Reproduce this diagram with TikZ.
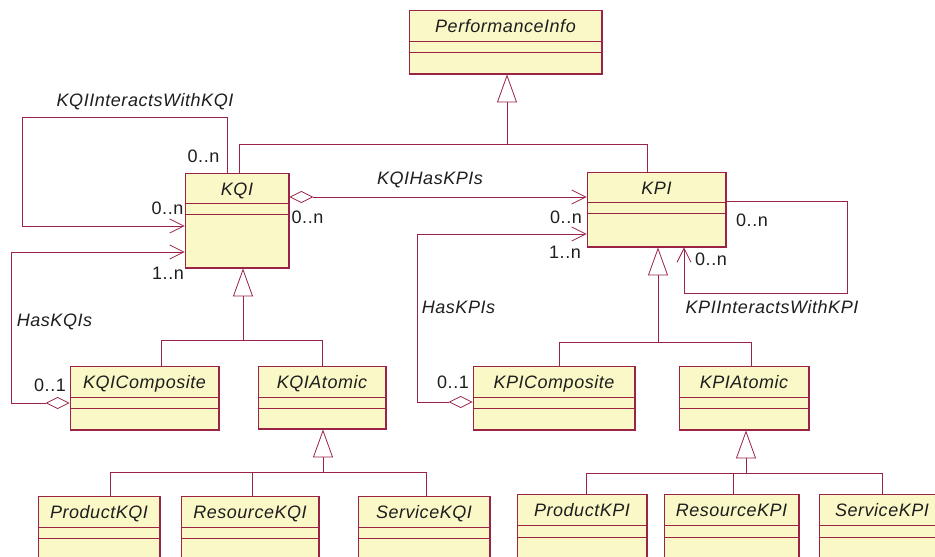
\documentclass[tikz,border=0pt]{standalone}
\usepackage{fontspec}
\setmainfont{Liberation Sans}
\newfontfamily\umlfont[LetterSpace=3]{Liberation Sans}
\usetikzlibrary{arrows.meta,fit}
\definecolor{umlline}{RGB}{155,35,70}
\definecolor{umlfill}{RGB}{251,248,200}
\definecolor{umltext}{RGB}{30,30,30}
\tikzset{
 classbox/.style={draw=umlline, fill=umlfill, line width=0.9pt, inner sep=0pt, rectangle},
 ctitle/.style={font=\umlfont\fontsize{18}{20}\selectfont\itshape, text=umltext, anchor=base, inner sep=0pt},
 mult/.style={font=\umlfont\fontsize{18}{20}\selectfont, text=umltext, inner sep=0pt},
 rolelabel/.style={font=\umlfont\fontsize{18}{20}\selectfont\itshape, text=umltext, inner sep=0pt},
 conn/.style={draw=umlline, line width=0.8pt},
 genarrow/.style={conn, -{Triangle[open, length=28pt, width=20pt, line width=0.8pt]}},
 assoc/.style={conn, -{Straight Barb[length=14pt, width=14pt, line width=0.8pt]}},
 aggr/.style={conn, {Diamond[open, length=24pt, width=12pt, line width=0.8pt]}-{Straight Barb[length=14pt, width=14pt, line width=0.8pt]}}
}
\newcommand\umlclass[8]{%
 \node[classbox, fit={(#2,#3) (#4,#5)}] (#1) {};
 \draw[umlline, line width=0.9pt] (#2,#6) -- (#4,#6) (#2,#7) -- (#4,#7);
 \draw[umlline, line width=1.6pt] (#4,#3) -- (#4,#5) -- (#2,#5);
 \node[ctitle] (#1-t) at ({(#2+#4)/2},{#3+22.5}) {#8};
}
\begin{document}
\begin{tikzpicture}[x=1pt,y=-1pt]
\useasboundingbox (0,0) rectangle (935,557);
% classes
\umlclass{perf}{409}{10}{602}{74}{41}{52}{PerformanceInfo}
\umlclass{kqi}{185}{173}{289}{268}{203}{214}{KQI}
\umlclass{kpi}{587}{172}{726}{247}{202}{213}{KPI}
\umlclass{kqicomp}{70}{366}{219}{430}{397}{408}{KQIComposite}
\umlclass{kqiatom}{258}{366}{386}{429}{397}{408}{KQIAtomic}
\umlclass{kpicomp}{473}{366}{635}{430}{397}{408}{KPIComposite}
\umlclass{kpiatom}{679}{366}{809}{430}{397}{408}{KPIAtomic}
\umlclass{prodkqi}{38}{496}{160}{580}{527}{538}{ProductKQI}
\umlclass{reskqi}{181}{496}{319}{580}{527}{538}{ResourceKQI}
\umlclass{servkqi}{358}{496}{490}{580}{527}{538}{ServiceKQI}
\umlclass{prodkpi}{517}{494}{647}{580}{525}{537}{ProductKPI}
\umlclass{reskpi}{664}{494}{799}{580}{525}{537}{ResourceKPI}
\umlclass{servkpi}{819}{494}{945}{580}{525}{537}{ServiceKPI}
% generalizations
\draw[conn] (kqi.north -| 239,0) -- (239,144) -- (647,144) -- (kpi.north -| 647,0);
\draw[genarrow] (507,144) -- (perf.south -| 507,0);
\draw[conn] (kqicomp.north -| 161,0) -- (161,340) -- (322,340) -- (kqiatom.north -| 322,0);
\draw[genarrow] (243,340) -- (kqi.south -| 243,0);
\draw[conn] (kpicomp.north -| 559,0) -- (559,342) -- (751,342) -- (kpiatom.north -| 751,0);
\draw[genarrow] (658,342) -- (kpi.south -| 658,0);
\draw[conn] (prodkqi.north -| 110,0) -- (110,472) -- (426,472) -- (servkqi.north -| 426,0);
\draw[conn] (252,472) -- (reskqi.north -| 252,0);
\draw[genarrow] (323,472) -- (kqiatom.south -| 323,0);
\draw[conn] (prodkpi.north -| 586,0) -- (586,473) -- (882,473) -- (servkpi.north -| 882,0);
\draw[conn] (733,473) -- (reskpi.north -| 733,0);
\draw[genarrow] (746,473) -- (kpiatom.south -| 746,0);
% associations
\draw[assoc] (kqi.north -| 227,0) -- (227,117) -- (22,117) -- (22,226) -- (kqi.west |- 0,226);
\draw[aggr] (kqi.east |- 0,197) -- (kpi.west |- 0,197);
\draw[aggr] (kqicomp.west |- 0,403) -- (11,403) -- (11,252) -- (kqi.west |- 0,252);
\draw[aggr] (kpicomp.west |- 0,402) -- (417,402) -- (417,234) -- (kpi.west |- 0,234);
\draw[assoc] (kpi.east |- 0,201) -- (847,201) -- (847,293) -- (684,293) -- (kpi.south -| 684,0);
% labels
\node[rolelabel] (l1) at (145,102) {KQIInteractsWithKQI};
\node[rolelabel] (l2) at (430,180) {KQIHasKPIs};
\node[rolelabel] (l3) at (54.5,322) {HasKQIs};
\node[rolelabel] (l4) at (458.5,307) {HasKPIs};
\node[rolelabel] (l5) at (772,307) {KPIInteractsWithKPI};
% multiplicities
\node[mult] (m1) at (203.5,156) {0..n};
\node[mult] (m2) at (167.5,208) {0..n};
\node[mult] (m3) at (168,273) {1..n};
\node[mult] (m4) at (50,385) {0..1};
\node[mult] (m5) at (307.5,217) {0..n};
\node[mult] (m6) at (566,217) {0..n};
\node[mult] (m7) at (565,252) {1..n};
\node[mult] (m8) at (453,382) {0..1};
\node[mult] (m9) at (752,220) {0..n};
\node[mult] (m10) at (711,259) {0..n};
\end{tikzpicture}
\end{document}
